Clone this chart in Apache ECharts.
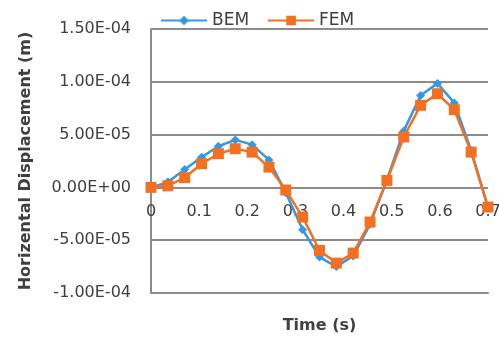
<!DOCTYPE html>
<html>
<head>
<meta charset="utf-8">
<script src="https://cdn.jsdelivr.net/npm/echarts@6/dist/echarts.min.js"></script>
<style>
html,body{margin:0;padding:0;background:#fff;}
#chart{width:499px;height:338px;}
</style>
</head>
<body>
<div id="chart"></div>
<script>
const timeValues = [0, 0.035, 0.07, 0.105, 0.14, 0.175, 0.21, 0.245, 0.28, 0.315, 0.35, 0.385, 0.42, 0.455, 0.49, 0.525, 0.56, 0.595, 0.63, 0.665, 0.7];
const bemValues = [0, 5e-6, 1.7e-5, 2.85e-5, 3.9e-5, 4.5e-5, 4.05e-5, 2.6e-5, -5e-6, -4.0e-5, -6.6e-5, -7.5e-5, -6.5e-5, -3.5e-5, 7e-6, 5.35e-5, 8.7e-5, 9.85e-5, 8.0e-5, 3.5e-5, -1.9e-5];
const femValues = [0, 1.5e-6, 9.2e-6, 2.24e-5, 3.19e-5, 3.66e-5, 3.34e-5, 1.92e-5, -2.5e-6, -2.81e-5, -5.97e-5, -7.17e-5, -6.22e-5, -3.28e-5, 6.6e-6, 4.77e-5, 7.77e-5, 8.87e-5, 7.36e-5, 3.34e-5, -1.86e-5];
const seriesNames = ['BEM', 'FEM'];
const yAxisTitle = 'Horizental Displacement (m)';
const xAxisTitle = 'Time (s)';

function fmtExp(v) {
  let s = Number(v).toExponential(2);
  let parts = s.split('e');
  let sign = parts[1][0];
  let digits = parts[1].slice(1);
  if (digits.length < 2) digits = '0' + digits;
  return parts[0] + 'E' + sign + digits;
}

const chart = echarts.init(document.getElementById('chart'), null, {renderer: 'canvas'});
const blue = '#3399e6';
const orange = '#f37021';
const gridColor = '#8c8c8c';
const textColor = '#3f3f3f';
chart.setOption({
  animation: false,
  backgroundColor: '#ffffff',
  textStyle: {fontFamily: 'DejaVu Sans'},
  legend: {
    top: 7,
    left: 155,
    itemWidth: 46,
    itemHeight: 12,
    itemGap: 18,
    textStyle: {fontSize: 17, color: textColor, fontFamily: 'DejaVu Sans'},
    data: seriesNames
  },
  grid: {left: 151, right: 11, top: 29, bottom: 45, containLabel: false, outerBoundsMode: 'none'},
  xAxis: {
    type: 'value',
    position: 'bottom',
    min: 0,
    max: 0.7,
    interval: 0.1,
    name: xAxisTitle,
    nameLocation: 'middle',
    nameGap: 25,
    nameTextStyle: {fontSize: 16, fontWeight: 'bold', color: textColor, fontFamily: 'DejaVu Sans', verticalAlign: 'top'},
    axisLine: {show: true, onZero: false, lineStyle: {color: gridColor, width: 2}},
    axisTick: {show: false},
    splitLine: {show: false},
    axisLabel: {
      margin: -89,
      fontSize: 16,
      color: textColor,
      verticalAlign: 'top',
      formatter: function (v) { return String(Math.round(v * 10) / 10); }
    }
  },
  yAxis: {
    type: 'value',
    min: -1e-4,
    max: 1.5e-4,
    interval: 5e-5,
    name: yAxisTitle,
    nameLocation: 'middle',
    nameGap: 117,
    nameRotate: 90,
    nameTextStyle: {fontSize: 16, fontWeight: 'bold', color: textColor, fontFamily: 'DejaVu Sans'},
    axisLine: {show: true, onZero: false, lineStyle: {color: gridColor, width: 2}},
    axisTick: {show: false},
    splitLine: {show: true, lineStyle: {color: gridColor, width: 2}},
    axisLabel: {
      margin: 20,
      fontSize: 16,
      color: textColor,
      formatter: fmtExp
    }
  },
  series: [
    {
      name: seriesNames[0],
      type: 'line',
      data: timeValues.map((t, i) => [t, bemValues[i]]),
      symbol: 'diamond',
      symbolSize: 9,
      lineStyle: {color: blue, width: 2.5},
      itemStyle: {color: blue},
      z: 2
    },
    {
      name: seriesNames[1],
      type: 'line',
      data: timeValues.map((t, i) => [t, femValues[i]]),
      symbol: 'rect',
      symbolSize: 11,
      lineStyle: {color: orange, width: 2.5},
      itemStyle: {color: orange},
      z: 3
    }
  ]
});
</script>
</body>
</html>
